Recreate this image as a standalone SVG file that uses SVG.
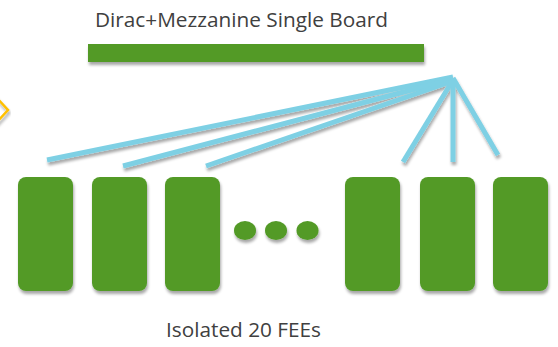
<svg xmlns="http://www.w3.org/2000/svg" width="558" height="347" viewBox="0 0 558 347">
  <defs>
    <filter id="shadow" x="-20%" y="-20%" width="140%" height="150%">
      <feGaussianBlur in="SourceAlpha" stdDeviation="1.5"/>
      <feOffset dx="1" dy="3" result="off"/>
      <feComponentTransfer><feFuncA type="linear" slope="0.35"/></feComponentTransfer>
      <feMerge><feMergeNode/><feMergeNode in="SourceGraphic"/></feMerge>
    </filter>
  </defs>
  <style>
    .label { font-family: "Open Sans", "Liberation Sans", sans-serif; font-size: 20px; fill: #404040; }
    .fee { fill: #529A27; }
    .link { stroke: #7ED0E4; stroke-width: 5; stroke-linecap: butt; fill: none; }
  </style>
  <rect width="558" height="347" fill="#ffffff"/>

  <!-- partial chevron at the left edge -->
  <polyline points="-4,97 8,110 -4,123" fill="none" stroke="#FFC000" stroke-width="2.5" filter="url(#shadow)"/>

  <g id="board">
    <text class="label" x="95" y="27" textLength="293" lengthAdjust="spacingAndGlyphs">Dirac+Mezzanine Single Board</text>
    <rect x="88" y="44" width="336" height="18" class="fee" filter="url(#shadow)"/>
  </g>

  <g id="connectors" filter="url(#shadow)">
    <line class="link" x1="453" y1="77" x2="47" y2="160"/>
    <line class="link" x1="453" y1="79" x2="123" y2="166"/>
    <line class="link" x1="453" y1="81" x2="206" y2="166"/>
    <line class="link" x1="453" y1="80" x2="403" y2="162"/>
    <line class="link" x1="453" y1="78" x2="453" y2="162"/>
    <line class="link" x1="453" y1="78" x2="498" y2="155"/>
  </g>

  <g id="fee1"><rect class="fee" x="18" y="177" width="55" height="114" rx="8" filter="url(#shadow)"/></g>
  <g id="fee2"><rect class="fee" x="92" y="177" width="55" height="114" rx="8" filter="url(#shadow)"/></g>
  <g id="fee3"><rect class="fee" x="165" y="177" width="55" height="114" rx="8" filter="url(#shadow)"/></g>
  <g id="ellipsis" filter="url(#shadow)">
    <ellipse class="fee" cx="245" cy="230.5" rx="11" ry="9.5"/>
    <ellipse class="fee" cx="276" cy="230.5" rx="11" ry="9.5"/>
    <ellipse class="fee" cx="307.5" cy="230.5" rx="11" ry="9.5"/>
  </g>
  <g id="fee4"><rect class="fee" x="345" y="177" width="55" height="114" rx="8" filter="url(#shadow)"/></g>
  <g id="fee5"><rect class="fee" x="420" y="177" width="55" height="114" rx="8" filter="url(#shadow)"/></g>
  <g id="fee6"><rect class="fee" x="493" y="177" width="55" height="114" rx="8" filter="url(#shadow)"/></g>

  <g id="caption">
    <text class="label" x="166" y="337" textLength="155" lengthAdjust="spacingAndGlyphs">Isolated 20 FEEs</text>
  </g>
</svg>
